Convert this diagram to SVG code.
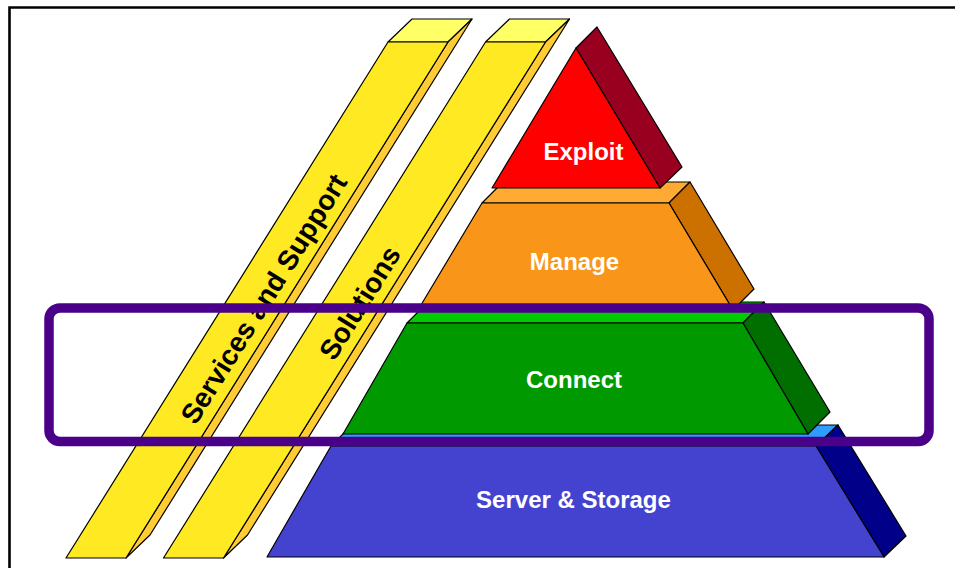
<svg xmlns="http://www.w3.org/2000/svg" width="955" height="568" viewBox="0 0 955 568">
  <style>
    .edge { stroke: #000; stroke-width: 1.2; stroke-linejoin: round; }
    .lbl { font-family: "Liberation Sans", Arial, sans-serif; font-weight: bold; font-size: 24px; fill: #fff; text-anchor: middle; }
    .bar-lbl { font-family: "Liberation Sans", Arial, sans-serif; font-weight: bold; font-size: 28px; fill: #000; text-anchor: middle; }
    .y-front { fill: #FFE923; }
    .y-top { fill: #FFFF66; }
    .y-side { fill: #FFCC33; }
  </style>

  <rect x="0" y="0" width="955" height="568" fill="#fff"/>
  <!-- frame: left and top rule -->
  <path d="M9.5,568 V7.5 H955" fill="none" stroke="#000" stroke-width="2.6"/>

  <!-- slanted bar: Services and Support -->
  <g id="services-support">
    <polygon class="edge y-top" points="388,42 412,19 472,19 448,42"/>
    <polygon class="edge y-side" points="448,42 472,19 150,535 126,558"/>
    <polygon class="edge y-front" points="388,42 448,42 126,558 66,558"/>
    <text class="bar-lbl" transform="translate(272,304) rotate(-58)">Services and Support</text>
  </g>

  <!-- slanted bar: Solutions -->
  <g id="solutions">
    <polygon class="edge y-top" points="485.5,42 509.5,19 569.5,19 545.5,42"/>
    <polygon class="edge y-side" points="545.5,42 569.5,19 247.5,535 223.5,558"/>
    <polygon class="edge y-front" points="485.5,42 545.5,42 223.5,558 163.5,558"/>
    <text class="bar-lbl" transform="translate(368,308) rotate(-58)">Solutions</text>
  </g>

  <!-- pyramid base layer -->
  <g id="server-storage">
    <polygon class="edge" fill="#2E9BFF" points="331,446 352,425 838,425 816,446"/>
    <polygon class="edge" fill="#000088" points="816,446 838,425 906,536 884,557"/>
    <polygon class="edge" fill="#4343D0" points="331,446 816,446 884,557 267,557"/>
    <text class="lbl" x="573.5" y="507.5">Server &amp; Storage</text>
  </g>

  <g id="connect">
    <polygon class="edge" fill="#00CC00" points="407,323 428,302 764,302 743,323"/>
    <polygon class="edge" fill="#006F00" points="743,323 764,302 830,412 808,434"/>
    <polygon class="edge" fill="#009900" points="407,323 743,323 808,434 343,434"/>
    <text class="lbl" x="574" y="387.5">Connect</text>
  </g>

  <g id="manage">
    <polygon class="edge" fill="#FFAA33" points="482,203 503,182 690,182 669,203"/>
    <polygon class="edge" fill="#CC7000" points="669,203 690,182 754,289 733,310"/>
    <polygon class="edge" fill="#F99518" points="482,203 669,203 733,310 418,310"/>
    <text class="lbl" x="574.5" y="269.5">Manage</text>
  </g>

  <g id="exploit">
    <polygon class="edge" fill="#99001F" points="576,48 597,27 682,167 660,188"/>
    <polygon class="edge" fill="#FF0000" points="576,48 660,188 492,188"/>
    <text class="lbl" x="583.5" y="159.5">Exploit</text>
  </g>

  <!-- highlight band around the middle layer -->
  <g id="highlight">
    <rect x="49" y="308" width="880" height="133.5" rx="11" ry="11" fill="none" stroke="#4A0088" stroke-width="9.5"/>
  </g>
</svg>
